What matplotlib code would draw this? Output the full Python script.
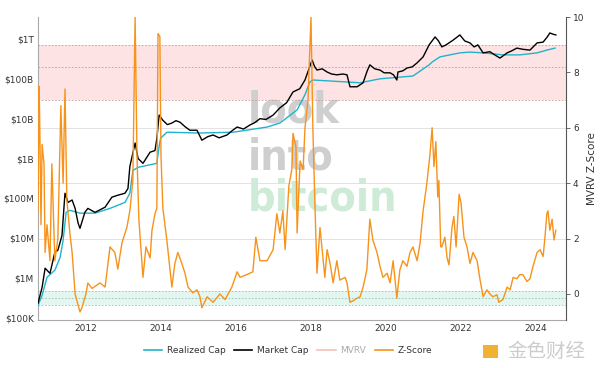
import matplotlib
matplotlib.use("Agg")
import matplotlib.pyplot as plt
import matplotlib.transforms as mtransforms
from matplotlib import font_manager
from matplotlib.patches import Rectangle
from matplotlib.lines import Line2D
import numpy as np

# --- данные (годы в десятичном виде, капитализация в log10 USD) ---
mcap_year = [2010.72, 2010.83, 2010.91, 2011.04, 2011.17, 2011.25, 2011.36, 2011.44, 2011.52, 2011.63,
             2011.71, 2011.79, 2011.84, 2011.97, 2012.05, 2012.24, 2012.51, 2012.69, 2012.85, 2013.04,
             2013.12, 2013.17, 2013.31, 2013.39, 2013.52, 2013.71, 2013.84, 2013.89, 2013.95, 2014.05,
             2014.17, 2014.29, 2014.40, 2014.51, 2014.64, 2014.77, 2014.96, 2015.09, 2015.25, 2015.39,
             2015.55, 2015.76, 2015.90, 2016.03, 2016.20, 2016.37, 2016.50, 2016.64, 2016.80, 2016.99,
             2017.17, 2017.35, 2017.52, 2017.70, 2017.84, 2018.03, 2018.10, 2018.16, 2018.30, 2018.43,
             2018.55, 2018.69, 2018.85, 2018.96, 2019.04, 2019.23, 2019.39, 2019.50, 2019.57, 2019.70,
             2019.84, 2019.95, 2020.11, 2020.20, 2020.29, 2020.32, 2020.45, 2020.56, 2020.70, 2020.83,
             2020.99, 2021.15, 2021.31, 2021.40, 2021.49, 2021.60, 2021.79, 2021.97, 2022.10, 2022.24,
             2022.35, 2022.45, 2022.59, 2022.77, 2022.90, 2023.04, 2023.23, 2023.35, 2023.49, 2023.65,
             2023.84, 2024.03, 2024.19, 2024.30, 2024.37, 2024.45, 2024.53]
mcap_log = [5.37, 5.77, 6.25, 6.12, 6.65, 6.70, 7.07, 8.13, 7.90, 7.96,
            7.75, 7.38, 7.25, 7.65, 7.75, 7.65, 7.78, 8.03, 8.08, 8.13,
            8.25, 8.80, 9.39, 9.00, 8.88, 9.16, 9.20, 9.50, 10.09, 9.96,
            9.85, 9.89, 9.95, 9.91, 9.80, 9.71, 9.71, 9.46, 9.55, 9.59,
            9.52, 9.59, 9.70, 9.79, 9.74, 9.84, 9.90, 10.00, 9.98, 10.09,
            10.27, 10.40, 10.67, 10.75, 10.97, 11.47, 11.30, 11.22, 11.25, 11.17,
            11.12, 11.10, 11.12, 11.10, 10.80, 10.80, 10.90, 11.20, 11.35, 11.25,
            11.22, 11.15, 11.15, 11.10, 10.97, 11.17, 11.20, 11.27, 11.30, 11.40,
            11.55, 11.85, 12.05, 11.95, 11.80, 11.85, 11.97, 12.10, 11.95, 11.90,
            11.80, 11.85, 11.65, 11.68, 11.60, 11.52, 11.65, 11.70, 11.77, 11.74,
            11.72, 11.90, 11.92, 12.05, 12.15, 12.12, 12.10]

rcap_year = [2010.72, 2010.83, 2010.96, 2011.17, 2011.31, 2011.39, 2011.47, 2011.57, 2011.84, 2012.24,
             2012.64, 2013.04, 2013.17, 2013.25, 2013.39, 2013.89, 2013.95, 2013.99, 2014.16, 2015.04,
             2015.92, 2016.83, 2017.17, 2017.63, 2017.84, 2017.97, 2018.05, 2018.96, 2019.31, 2019.84,
             2020.72, 2021.15, 2021.23, 2021.44, 2021.97, 2022.24, 2022.59, 2023.12, 2023.57, 2024.03,
             2024.29, 2024.51]
rcap_log = [5.32, 5.57, 6.02, 6.20, 6.52, 6.95, 7.65, 7.70, 7.63, 7.63,
            7.75, 7.90, 8.13, 8.70, 8.78, 8.88, 9.30, 9.51, 9.66, 9.64,
            9.66, 9.79, 9.89, 10.22, 10.60, 10.92, 10.97, 10.92, 10.90, 11.00,
            11.07, 11.35, 11.42, 11.55, 11.65, 11.67, 11.65, 11.60, 11.60, 11.65,
            11.72, 11.77]

z_year = [2010.72, 2010.75, 2010.77, 2010.80, 2010.83, 2010.88, 2010.91, 2010.96, 2011.04, 2011.09,
          2011.17, 2011.25, 2011.33, 2011.39, 2011.44, 2011.49, 2011.57, 2011.63, 2011.71, 2011.79,
          2011.84, 2011.89, 2012.00, 2012.05, 2012.16, 2012.27, 2012.37, 2012.51, 2012.64, 2012.77,
          2012.85, 2012.96, 2013.09, 2013.17, 2013.25, 2013.31, 2013.36, 2013.41, 2013.52, 2013.60,
          2013.71, 2013.76, 2013.84, 2013.89, 2013.92, 2013.97, 2014.00, 2014.05, 2014.16, 2014.29,
          2014.37, 2014.45, 2014.53, 2014.64, 2014.72, 2014.85, 2014.96, 2015.04, 2015.09, 2015.23,
          2015.39, 2015.57, 2015.71, 2015.89, 2016.03, 2016.11, 2016.29, 2016.45, 2016.53, 2016.64,
          2016.83, 2016.99, 2017.09, 2017.17, 2017.25, 2017.31, 2017.41, 2017.49, 2017.52, 2017.60,
          2017.63, 2017.71, 2017.79, 2017.84, 2017.92, 2018.00, 2018.05, 2018.11, 2018.16, 2018.24,
          2018.29, 2018.37, 2018.43, 2018.51, 2018.59, 2018.69, 2018.77, 2018.91, 2018.96, 2019.04,
          2019.12, 2019.23, 2019.31, 2019.39, 2019.49, 2019.57, 2019.65, 2019.76, 2019.84, 2019.92,
          2020.03, 2020.11, 2020.19, 2020.29, 2020.37, 2020.45, 2020.56, 2020.64, 2020.72, 2020.83,
          2020.91, 2020.99, 2021.09, 2021.17, 2021.23, 2021.28, 2021.33, 2021.38, 2021.41, 2021.46,
          2021.49, 2021.57, 2021.63, 2021.68, 2021.76, 2021.81, 2021.87, 2021.95, 2022.00, 2022.08,
          2022.16, 2022.24, 2022.32, 2022.43, 2022.51, 2022.59, 2022.69, 2022.77, 2022.85, 2022.96,
          2023.01, 2023.12, 2023.23, 2023.31, 2023.39, 2023.49, 2023.57, 2023.65, 2023.76, 2023.84,
          2023.92, 2024.03, 2024.11, 2024.19, 2024.24, 2024.29, 2024.32, 2024.37, 2024.43, 2024.48,
          2024.53]
z_score = [3.0, 7.5, 5.9, 2.5, 5.4, 4.7, 1.5, 2.5, 1.2, 4.7,
           1.2, 2.0, 6.8, 4.0, 7.4, 3.4, 2.2, 1.5, 0.0, -0.4,
           -0.65, -0.5, 0.0, 0.4, 0.2, 0.3, 0.4, 0.25, 1.7, 1.5,
           0.9, 1.85, 2.4, 3.0, 4.1, 10.0, 5.0, 2.7, 0.6, 1.7,
           1.3, 2.3, 2.9, 3.1, 9.4, 9.3, 5.0, 3.1, 1.9, 0.25,
           1.1, 1.5, 1.2, 0.75, 0.25, 0.04, 0.15, -0.1, -0.5, -0.1,
           -0.3, 0.0, -0.2, 0.25, 0.8, 0.6, 0.7, 0.8, 2.05, 1.2,
           1.2, 1.6, 2.9, 2.2, 3.0, 1.6, 3.9, 4.5, 5.8, 5.3,
           2.2, 4.8, 4.5, 6.0, 7.0, 10.0, 6.0, 3.0, 0.75, 2.4,
           1.7, 0.6, 1.6, 1.1, 0.4, 1.2, 0.5, 0.6, 0.4, -0.3,
           -0.25, -0.15, -0.1, 0.25, 0.87, 2.7, 1.95, 1.5, 1.0, 0.6,
           0.75, 0.4, 1.2, -0.15, 0.87, 1.2, 1.0, 1.5, 1.7, 1.2,
           1.85, 3.0, 4.0, 5.0, 6.0, 4.6, 5.5, 3.5, 4.1, 1.7,
           1.7, 2.05, 1.3, 1.05, 2.4, 2.8, 1.7, 3.6, 3.3, 2.05,
           1.7, 1.1, 1.5, 1.2, 0.5, -0.1, 0.15, 0.0, -0.1, -0.03,
           -0.3, -0.2, 0.25, 0.15, 0.6, 0.55, 0.7, 0.7, 0.45, 0.55,
           1.0, 1.5, 1.6, 1.35, 2.05, 2.9, 3.0, 2.3, 2.7, 1.95,
           2.3]

cap_ticks = [5, 6, 7, 8, 9, 10, 11, 12]
cap_labels = ['$100K', '$1M', '$10M', '$100M', '$1B', '$10B', '$100B', '$1T']
year_ticks = [2012, 2014, 2016, 2018, 2020, 2022, 2024]
z_ticks = [0, 2, 4, 6, 8, 10]
red_zone = (7.0, 8.2, 9.0)
green_zone = (-0.4, -0.14, 0.1)

c_real = '#22b3cc'
c_z = '#f7931a'

# узкий шрифт для водяного знака, если такой установлен
names = {f.name for f in font_manager.fontManager.ttflist}
wm_kw = dict(fontweight='bold', family=['DejaVu Sans'], fontsize=27)
if 'Liberation Sans Narrow' in names:
    wm_kw = dict(fontweight='bold', family=['Liberation Sans Narrow'], fontsize=35)
else:
    cond = [f for f in font_manager.fontManager.ttflist
            if f.name == 'DejaVu Sans' and f.stretch == 'condensed' and f.weight in (700, 'bold')]
    if cond:
        wm_kw = dict(fontweight='bold', family=['DejaVu Sans'], fontstretch='condensed', fontsize=31)

fig = plt.figure(figsize=(6.0, 3.68), dpi=100)
ax = fig.add_axes([0.0633, 0.1304, 0.880, 0.8234])
axz = ax.twinx()

ax.set_xlim(2010.72, 2024.80)
ax.set_yscale('log')
ax.set_ylim(10 ** 4.95, 10 ** 12.55)
axz.set_ylim(-0.94, 10)

# зоны и сетка по правой оси, рисуются под линиями капитализации
trans = mtransforms.blended_transform_factory(ax.transAxes, axz.transData)
ax.add_patch(Rectangle((0, red_zone[0]), 1, red_zone[2] - red_zone[0], transform=trans,
                       facecolor='#fde3e3', edgecolor='none', zorder=0))
ax.add_patch(Rectangle((0, green_zone[0]), 1, green_zone[2] - green_zone[0], transform=trans,
                       facecolor='#e3f6ef', edgecolor='none', zorder=0))
for v in red_zone:
    ax.plot([0, 1], [v, v], transform=trans, color='#c99a9a', lw=0.6, ls=(0, (2, 2)), zorder=1)
for v in green_zone:
    ax.plot([0, 1], [v, v], transform=trans, color='#9bbfb2', lw=0.6, ls=(0, (2, 2)), zorder=1)
for v in [2, 4, 6]:
    ax.plot([0, 1], [v, v], transform=trans, color='#e2e2e2', lw=0.7, zorder=0.5)

# водяной знак
ax.text(0.398, 0.69, 'look', transform=ax.transAxes, ha='left', va='center',
        color='#cfcfcf', zorder=0.8, **wm_kw)
ax.text(0.398, 0.535, 'into', transform=ax.transAxes, ha='left', va='center',
        color='#cfcfcf', zorder=0.8, **wm_kw)
ax.text(0.398, 0.40, 'bitcoin', transform=ax.transAxes, ha='left', va='center',
        color='#cdebd6', zorder=0.8, **wm_kw)

ax.plot(rcap_year, 10 ** np.array(rcap_log), color=c_real, lw=1.0, zorder=3)
ax.plot(mcap_year, 10 ** np.array(mcap_log), color='black', lw=1.0, zorder=4)
axz.plot(z_year, z_score, color=c_z, lw=1.0, zorder=5)

ax.set_yticks([10 ** t for t in cap_ticks])
ax.set_yticklabels(cap_labels)
ax.yaxis.set_minor_locator(matplotlib.ticker.NullLocator())
ax.set_xticks(year_ticks)
ax.set_xticklabels([str(y) for y in year_ticks])
axz.set_yticks(z_ticks)

ax.tick_params(axis='y', length=0, labelsize=6.5, labelcolor='#333333', pad=3)
ax.tick_params(axis='x', length=0, labelsize=6.5, labelcolor='#333333', pad=3)
axz.tick_params(axis='y', length=3, width=0.6, color='#555555', labelsize=6.5,
                labelcolor='#333333', pad=2)

for s in ['top']:
    ax.spines[s].set_visible(False)
    axz.spines[s].set_visible(False)
ax.spines['left'].set_color('#aaaaaa')
ax.spines['bottom'].set_color('#aaaaaa')
axz.spines['left'].set_visible(False)
axz.spines['bottom'].set_visible(False)
axz.spines['right'].set_color('#555555')
ax.spines['right'].set_visible(False)

axz.set_ylabel('MVRV Z-Score', fontsize=7.5, color='#333333')
axz.yaxis.set_label_coords(1.04, 0.5)

handles = [Line2D([], [], color=c_real, lw=1.2),
           Line2D([], [], color='black', lw=1.2),
           Line2D([], [], color='#f2c0b8', lw=1.2),
           Line2D([], [], color=c_z, lw=1.2)]
leg = fig.legend(handles, ['Realized Cap', 'Market Cap', 'MVRV', 'Z-Score'],
                 loc='center', bbox_to_anchor=(0.48, 0.048), ncol=4, frameon=False,
                 fontsize=6.5, handlelength=2.0, columnspacing=1.0, handletextpad=0.5)
for t, c in zip(leg.get_texts(), ['#333333', '#333333', '#aaaaaa', '#333333']):
    t.set_color(c)

# логотип-водяной знак в правом нижнем углу
fig.patches.append(Rectangle((0.805, 0.027), 0.025, 0.035, transform=fig.transFigure,
                             facecolor='#f0b232', edgecolor='none'))
fig.text(0.845, 0.046, '金色财经', fontsize=14, color='#cccccc', va='center',
         family=['Noto Sans CJK SC', 'DejaVu Sans'])

fig.savefig('out.png', dpi=100)
